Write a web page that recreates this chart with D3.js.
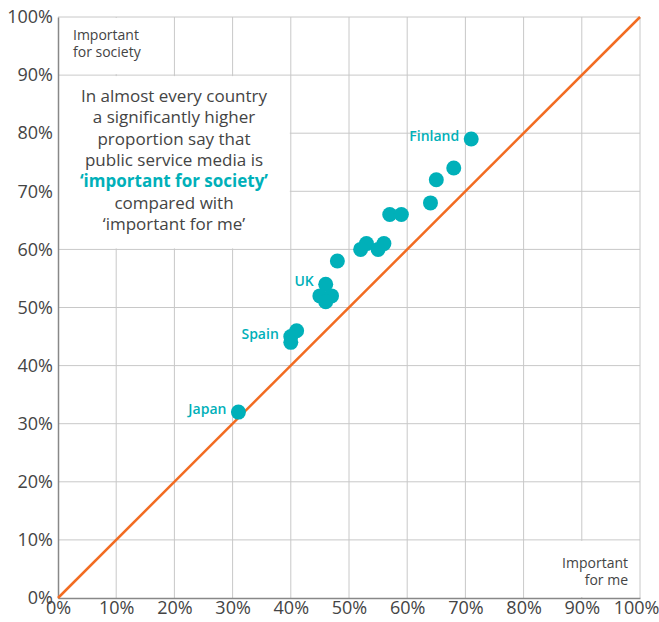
<!DOCTYPE html>
<meta charset="utf-8">
<style>

body { margin: 0; background: #fff; }

.grid line {
  stroke: #c8c8c8;
  stroke-width: 1px;
}

.axis text {
  font-family: "Open Sans", sans-serif;
  font-size: 18px;
  fill: #444;
}

.dots circle {
  fill: #00b0b9;
}

.note {
  font-family: "Open Sans", sans-serif;
  fill: #444;
}

.country {
  font-family: "Open Sans", sans-serif;
  font-size: 14px;
  font-weight: 600;
  fill: #00b0b9;
}

</style>
<svg width="659" height="622"></svg>
<script src="https://d3js.org/d3.v7.min.js"></script>
<script>

// important for me (x) vs important for society (y), percent
var forMe      = [71, 68, 65, 64, 57, 59, 53, 56, 52, 55, 48, 46, 45, 47, 46, 41, 40, 40, 31];
var forSociety = [79, 74, 72, 68, 66, 66, 61, 61, 60, 60, 58, 54, 52, 52, 51, 46, 45, 44, 32];
var countries  = ["Finland", "", "", "", "", "", "", "", "", "", "", "UK", "", "", "", "", "Spain", "", "Japan"];

var ticks = [0, 10, 20, 30, 40, 50, 60, 70, 80, 90, 100];

var noteLines = [
  "In almost every country",
  "a significantly higher",
  "proportion say that",
  "public service media is",
  "\u2018important for society\u2019",
  "compared with",
  "\u2018important for me\u2019"
];

var svg = d3.select("svg");

var x = d3.scaleLinear().domain([0, 100]).range([58, 640]);
var y = d3.scaleLinear().domain([0, 100]).range([598, 17]);

// grid
var grid = svg.append("g").attr("class", "grid");
grid.selectAll(".v")
  .data(ticks.slice(1))
  .enter().append("line")
    .attr("x1", function(d) { return x(d); })
    .attr("x2", function(d) { return x(d); })
    .attr("y1", y(0))
    .attr("y2", y(100));
grid.selectAll(".h")
  .data(ticks.slice(1))
  .enter().append("line")
    .attr("x1", x(0))
    .attr("x2", x(100))
    .attr("y1", function(d) { return y(d); })
    .attr("y2", function(d) { return y(d); });

// white boxes that hide grid behind the text labels
svg.append("rect")
    .attr("x", x(0) + 1).attr("y", y(100) + 1)
    .attr("width", x(20) - x(0) - 2).attr("height", y(90) - y(100) - 2)
    .attr("fill", "#fff");
svg.append("rect")
    .attr("x", x(0) + 1).attr("y", y(90) + 1)
    .attr("width", x(40) - x(0) - 2).attr("height", y(60) - y(90) - 2)
    .attr("fill", "#fff");
svg.append("rect")
    .attr("x", x(80) + 1).attr("y", y(10) + 1)
    .attr("width", x(100) - x(80) - 2).attr("height", y(0) - y(10) - 2)
    .attr("fill", "#fff");

// axes
var yAxis = svg.append("g")
    .attr("class", "axis")
    .attr("transform", "translate(" + x(0) + ",0)")
    .call(d3.axisLeft(y).tickValues(ticks).tickSize(0).tickPadding(5)
      .tickFormat(function(d) { return d + "%"; }));
yAxis.select(".domain").attr("stroke", "#888").attr("stroke-width", 1.5);

var xAxis = svg.append("g")
    .attr("class", "axis")
    .attr("transform", "translate(0," + y(0) + ")")
    .call(d3.axisBottom(x).tickValues(ticks).tickSize(0).tickPadding(3)
      .tickFormat(function(d) { return d + "%"; }));
xAxis.select(".domain").attr("stroke", "#888").attr("stroke-width", 1.5);
// keep the last label inside the frame
xAxis.selectAll(".tick text")
    .filter(function(d) { return d == 100; })
    .attr("dx", -4);

// diagonal
svg.append("line")
    .attr("x1", x(0)).attr("y1", y(0))
    .attr("x2", x(100)).attr("y2", y(100))
    .attr("stroke", "#f26c22")
    .attr("stroke-width", 2.5);

// points
var pts = forMe.map(function(d, i) {
  return { me: d, soc: forSociety[i], name: countries[i] };
});

svg.append("g")
    .attr("class", "dots")
  .selectAll("circle")
  .data(pts)
  .enter().append("circle")
    .attr("cx", function(d) { return x(d.me); })
    .attr("cy", function(d) { return y(d.soc); })
    .attr("r", 7.5);

svg.append("g")
  .selectAll("text")
  .data(pts.filter(function(d) { return d.name; }))
  .enter().append("text")
    .attr("class", "country")
    .attr("x", function(d) { return x(d.me) - 12; })
    .attr("y", function(d) { return y(d.soc) + 2; })
    .attr("text-anchor", "end")
    .text(function(d) { return d.name; });

// corner labels
var tl = svg.append("text").attr("class", "note")
    .attr("font-size", 14);
tl.append("tspan").attr("x", 73).attr("y", 40).text("Important");
tl.append("tspan").attr("x", 73).attr("y", 57).text("for society");

var br = svg.append("text").attr("class", "note")
    .attr("font-size", 14).attr("text-anchor", "end");
br.append("tspan").attr("x", 628).attr("y", 568).text("Important");
br.append("tspan").attr("x", 628).attr("y", 585).text("for me");

// annotation
svg.append("text")
    .attr("class", "note")
    .attr("font-size", 17)
    .attr("text-anchor", "middle")
  .selectAll("tspan")
  .data(noteLines)
  .enter().append("tspan")
    .attr("x", 174)
    .attr("y", function(d, i) { return 102 + i * 21.3; })
    .attr("fill", function(d, i) { return i == 4 ? "#00b0b9" : null; })
    .attr("font-weight", function(d, i) { return i == 4 ? 700 : null; })
    .text(function(d) { return d; });

</script>
